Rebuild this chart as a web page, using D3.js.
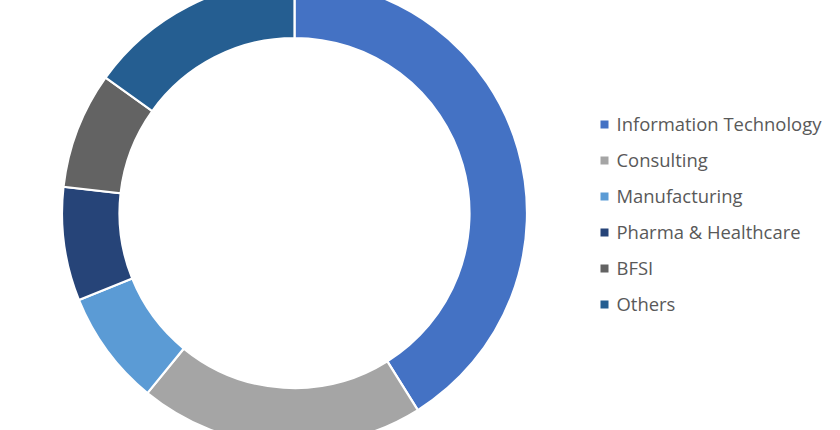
<!DOCTYPE html>
<html>
<head>
<meta charset="utf-8">
<script src="https://cdn.jsdelivr.net/npm/d3@7"></script>
<style>
  html, body { margin: 0; padding: 0; background: #fff; }
  svg { display: block; }
</style>
</head>
<body>
<svg id="chart" width="840" height="430"></svg>
<script>
const categories = ["Information Technology", "Consulting", "Manufacturing", "Pharma & Healthcare", "BFSI", "Others"];
const values = [41.1, 19.8, 8.0, 7.9, 8.1, 15.1];
const colors = ["#4472C4", "#A5A5A5", "#5B9BD5", "#264478", "#636363", "#255E91"];

const svg = d3.select("#chart");
const cx = 294.5, cy = 213, outerR = 232.5, innerR = 175;

const pie = d3.pie().sort(null).value(d => d.value);
const arc = d3.arc().innerRadius(innerR).outerRadius(outerR);
const data = categories.map((c, i) => ({ name: c, value: values[i] }));
const color = d3.scaleOrdinal().domain(categories).range(colors);

svg.append("g")
  .attr("transform", `translate(${cx},${cy})`)
  .selectAll("path")
  .data(pie(data))
  .join("path")
  .attr("d", arc)
  .attr("fill", d => color(d.data.name))
  .attr("stroke", "#fff")
  .attr("stroke-width", 2.2);

const legendY = d3.scalePoint().domain(categories).range([124.5, 304.5]);
const lg = svg.append("g");
const items = lg.selectAll("g").data(categories).join("g")
  .attr("transform", d => `translate(0,${legendY(d)})`);
items.append("rect")
  .attr("x", 600.5).attr("y", -4).attr("width", 8).attr("height", 8)
  .attr("fill", d => color(d));
const texts = items.append("text")
  .attr("x", 616.5).attr("y", 0).attr("dy", "0.36em")
  .attr("fill", "#595959")
  .style("font-family", "'Open Sans', sans-serif")
  .style("font-size", "17px")
  .text(d => d);
// fit font size so the widest label matches the reference width
const first = texts.filter((d, i) => i === 0).node();
const w = first.getComputedTextLength();
const fs = 17 * 205 / w;
texts.style("font-size", fs + "px");
</script>
</body>
</html>
